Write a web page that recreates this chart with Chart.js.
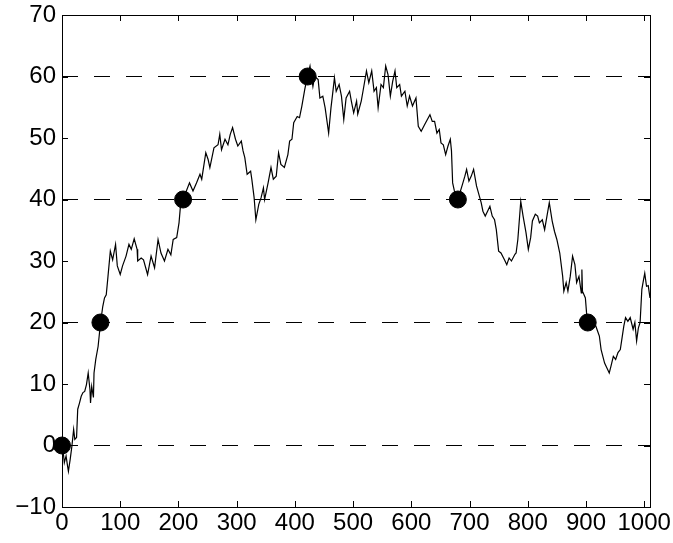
<!DOCTYPE html>
<html>
<head>
<meta charset="utf-8">
<title>Random walk</title>
<script src="https://cdn.jsdelivr.net/npm/chart.js@4.4.1/dist/chart.umd.min.js"></script>
<style>
    html, body { margin: 0; padding: 0; background: #fff; }
    #wrap { width: 673px; height: 543px; position: relative; }
</style>
</head>
<body>
<div id="wrap"><canvas id="chart"></canvas></div>
<script>
(function () {

    // ── Données ──────────────────────────────────────────────────────────────
    var walkX = [0, 2, 4, 7, 9, 11, 14, 17, 20, 22, 25, 27, 30, 33, 36, 39, 42, 45, 48, 49,
        51, 54, 55, 58, 62, 66, 70, 73, 76, 79, 83, 87, 92, 95, 100, 104, 110, 115, 119, 124,
        129, 130, 136, 140, 147, 153, 159, 165, 170, 176, 182, 187, 191, 197, 201, 204, 208, 219, 225, 231,
        237, 240, 247, 251, 254, 261, 268, 271, 274, 280, 285, 289, 293, 298, 302, 308, 311, 314, 318, 324,
        326, 330, 333, 338, 342, 346, 348, 354, 359, 363, 368, 372, 376, 382, 388, 391, 395, 398, 404, 408,
        412, 417, 421, 426, 431, 434, 440, 443, 448, 452, 458, 462, 465, 468, 471, 476, 480, 484, 488, 494,
        497, 501, 506, 508, 514, 517, 523, 527, 532, 536, 540, 543, 548, 552, 556, 560, 564, 568, 572, 575,
        580, 583, 589, 593, 597, 602, 608, 612, 617, 623, 632, 636, 640, 644, 648, 651, 655, 659, 663, 667,
        669, 671, 674, 680, 688, 692, 695, 699, 703, 707, 712, 717, 720, 723, 727, 731, 735, 739, 743, 746,
        750, 754, 760, 764, 768, 772, 778, 780, 783, 788, 792, 797, 801, 805, 808, 813, 817, 820, 825, 829,
        833, 837, 842, 846, 850, 855, 860, 862, 866, 869, 873, 877, 881, 884, 888, 892, 893, 894, 899, 901,
        903, 911, 917, 923, 926, 932, 936, 940, 943, 947, 951, 955, 959, 962, 965, 968, 972, 976, 981, 984,
        987, 990, 993, 996, 999, 1001, 1004, 1007, 1010];
    var walkY = [0, -1, -2.8, -1.7, -3, -4.2, -2.3, -0.1, 2.6, 1, 1.3, 5.9, 6.9, 8, 8.6, 8.8, 9.9, 11.8, 9.1, 6.9,
        9.6, 7.8, 11.8, 14, 16.1, 19.8, 22.6, 24, 24.5, 27.5, 31.6, 30.2, 32.7, 29.2, 27.8, 29.2, 30.8, 32.7, 31.9, 33.6,
        31.9, 30, 30.5, 30.2, 27.8, 30.8, 28.9, 33.5, 31.3, 30, 31.9, 31, 33.5, 33.8, 36.2, 39.5, 40, 42.7, 41.4, 42.7,
        44.1, 43.3, 47.6, 46.5, 45.2, 48.4, 48.9, 50.6, 48.1, 49.8, 48.9, 50.6, 51.7, 49.8, 48.7, 49.5, 47.9, 46.8, 44.1, 44.6,
        43.3, 40.3, 36.7, 39.2, 40.3, 41.9, 40, 42.7, 45.2, 43.3, 43.8, 47.6, 45.7, 45.2, 47.3, 49.5, 49.8, 52.5, 53.5, 53.3,
        55.2, 57.9, 59.8, 61.7, 58.4, 60, 59.5, 56.5, 56.8, 54.9, 50.8, 54.9, 57.3, 59.8, 57.6, 58.7, 56.8, 53, 56.5, 57.6,
        56, 54.1, 56, 53.9, 56, 57.6, 60.9, 59, 60.9, 57.6, 58.2, 54.9, 58.7, 58.2, 61.7, 60.3, 56.8, 59.2, 60.9, 58.2,
        58.7, 56.8, 57.6, 55.2, 56.8, 55.2, 56.5, 51.9, 51.1, 52.2, 53.8, 52.7, 52.7, 50.8, 51.4, 49.2, 48.9, 47.3, 48.7, 49.8,
        47.9, 42.7, 41.4, 40, 42.5, 43.8, 44.9, 43, 43.8, 44.9, 42.2, 40.5, 39.5, 38.1, 37.3, 38.1, 38.9, 37.3, 36.7, 35.1,
        31.6, 31.3, 30.2, 29.4, 30.5, 30, 31.1, 31.3, 33.5, 39.7, 37.3, 34.6, 31.9, 33.8, 36.5, 37.6, 37.3, 36.2, 36.7, 35.1,
        37.3, 39.5, 36.5, 34.8, 33.5, 31.3, 27.5, 25.1, 26.5, 25.1, 27.5, 30.8, 29.4, 26.5, 27.5, 24.8, 28.6, 25.1, 24, 21.6,
        20, 19.8, 19.4, 17.8, 15.6, 13.4, 12.6, 11.8, 12.9, 14.5, 14, 15.1, 15.6, 17.5, 19.4, 20.8, 20.2, 20.8, 18.9, 20,
        17, 19.1, 20, 25.4, 27, 28, 25.9, 26, 24];

    // passages des niveaux (points noirs)
    var crossX = [0, 66, 208, 422, 680, 903];
    var crossY = [0, 20, 40, 60, 40, 20];

    // niveaux en pointillés
    var levels = [0, 20, 40, 60];

    var xTicks = [0, 100, 200, 300, 400, 500, 600, 700, 800, 900, 1000];
    var yTicks = [-10, 0, 10, 20, 30, 40, 50, 60, 70];
    var X_MAX = 1010;

    var FONT = { family: '"Liberation Sans", Arial, Helvetica, sans-serif', size: 24 };

    // ── Cadre + graduations vers l'intérieur (style MATLAB) ──────────────────
    var framePlugin = {
        id: 'frame',
        beforeDatasetsDraw: function (chart) {
            var ctx = chart.ctx, a = chart.chartArea;
            var xs = chart.scales.x, ys = chart.scales.y;
            var len = 6;
            ctx.save();
            ctx.strokeStyle = '#000';
            ctx.lineWidth = 1;
            ctx.strokeRect(a.left + 0.5, a.top + 0.5, a.right - a.left, a.bottom - a.top);
            ctx.beginPath();
            xTicks.forEach(function (v) {
                var px = Math.round(xs.getPixelForValue(v)) + 0.5;
                ctx.moveTo(px, a.bottom); ctx.lineTo(px, a.bottom - len);
                ctx.moveTo(px, a.top); ctx.lineTo(px, a.top + len);
            });
            yTicks.forEach(function (v) {
                var py = Math.round(ys.getPixelForValue(v)) + 0.5;
                ctx.moveTo(a.left, py); ctx.lineTo(a.left + len, py);
                ctx.moveTo(a.right, py); ctx.lineTo(a.right - len, py);
            });
            ctx.stroke();
            ctx.restore();
        }
    };

    var datasets = [];

    datasets.push({
        data: crossX.map(function (x, i) { return { x: x, y: crossY[i] }; }),
        showLine: false,
        pointRadius: 8.5,
        pointBackgroundColor: '#000',
        pointBorderColor: '#000',
        pointBorderWidth: 1,
        clip: false,
        order: 0
    });

    datasets.push({
        data: walkX.map(function (x, i) { return { x: x, y: walkY[i] }; }),
        borderColor: '#000',
        borderWidth: 1.2,
        pointRadius: 0,
        tension: 0,
        order: 1
    });

    levels.forEach(function (lv) {
        datasets.push({
            data: [{ x: 0, y: lv }, { x: X_MAX, y: lv }],
            borderColor: '#000',
            borderWidth: 1,
            borderDash: [16, 16],
            pointRadius: 0,
            order: 2
        });
    });

    new Chart(document.getElementById('chart'), {
        type: 'line',
        data: { datasets: datasets },
        plugins: [framePlugin],
        options: {
            responsive: true,
            maintainAspectRatio: false,
            animation: false,
            devicePixelRatio: 1,
            layout: { padding: { top: 15, right: 23, left: 0, bottom: 0 } },
            plugins: {
                legend: { display: false },
                tooltip: { enabled: false }
            },
            scales: {
                x: {
                    type: 'linear',
                    min: 0,
                    max: X_MAX,
                    grid: { display: false, drawTicks: false },
                    border: { display: false },
                    afterBuildTicks: function (s) {
                        s.ticks = xTicks.map(function (v) { return { value: v }; });
                    },
                    afterFit: function (s) {
                        s.height = 36;
                        s.paddingLeft = 0;
                        s.paddingRight = 0;
                    },
                    ticks: {
                        color: '#000',
                        font: FONT,
                        padding: 2,
                        maxRotation: 0,
                        autoSkip: false,
                        callback: function (v) { return String(v); }
                    }
                },
                y: {
                    min: -10,
                    max: 70,
                    grid: { display: false, drawTicks: false },
                    border: { display: false },
                    afterBuildTicks: function (s) {
                        s.ticks = yTicks.map(function (v) { return { value: v }; });
                    },
                    afterFit: function (s) {
                        s.width = 62;
                        s.paddingTop = 0;
                        s.paddingBottom = 0;
                    },
                    ticks: {
                        color: '#000',
                        font: FONT,
                        padding: 6,
                        callback: function (v) { return v < 0 ? '\u2212' + Math.abs(v) : String(v); }
                    }
                }
            }
        }
    });

})();
</script>
</body>
</html>
